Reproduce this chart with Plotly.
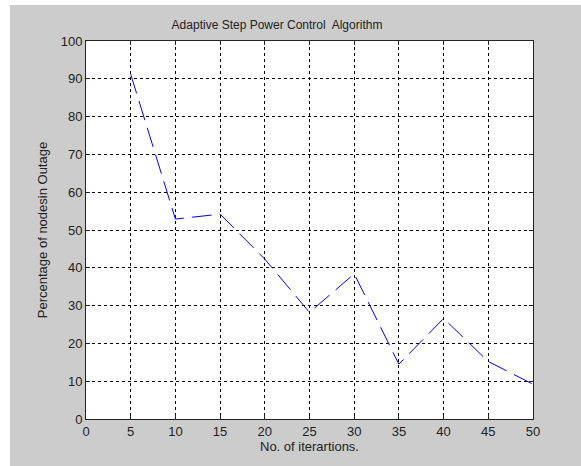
import plotly.graph_objects as go

iterations = [5, 10, 15, 20, 25, 30, 35, 40, 45, 50]
outage_pct = [91.2, 52.9, 54.2, 42.3, 28.2, 38.4, 14.5, 26.6, 15.2, 9.2]
x_ticks = [0, 5, 10, 15, 20, 25, 30, 35, 40, 45, 50]
y_ticks = [0, 10, 20, 30, 40, 50, 60, 70, 80, 90, 100]

W, H = 581, 466
L, R, T, B = 86, 48, 41, 47
pw, ph = W - L - R, H - T - B

FONT = "Liberation Sans, Arial, sans-serif"

fig = go.Figure()
fig.add_trace(go.Scatter(
    x=iterations, y=outage_pct, mode="lines",
    line=dict(color="#0000ff", width=1, dash="20px,8px"),
    showlegend=False, hoverinfo="skip",
))

axis_common = dict(
    showline=True, linecolor="#222222", linewidth=1, mirror="allticks",
    ticks="inside", ticklen=4, tickcolor="#222222",
    showgrid=True, gridcolor="#000000", gridwidth=1, griddash="3px,3px",
    zeroline=False, automargin=False,
    tickfont=dict(family=FONT, size=13, color="#222222"),
)

fig.update_xaxes(range=[0, 50], tickvals=x_ticks, **axis_common,
                 title=dict(text="No. of iterartions.", font=dict(family=FONT, size=13, color="#222222"), standoff=4))
fig.update_yaxes(range=[0, 100], tickvals=y_ticks, **axis_common,
                 title=dict(text="Percentage of nodesin Outage", font=dict(family=FONT, size=13, color="#222222"), standoff=10))

# thin white strips at the left and top edges of the gray figure
fig.add_shape(type="rect", xref="paper", yref="paper",
              x0=(-5 - L) / pw, x1=(10 - L) / pw,
              y0=(ph + T - H - 5) / ph, y1=(ph + T + 5) / ph,
              fillcolor="#ffffff", line=dict(width=0), layer="above")
fig.add_shape(type="rect", xref="paper", yref="paper",
              x0=(-5 - L) / pw, x1=(W + 5 - L) / pw,
              y0=(ph + T - 5) / ph, y1=(ph + T + 5) / ph,
              fillcolor="#ffffff", line=dict(width=0), layer="above")

fig.update_layout(
    width=W, height=H,
    margin=dict(l=L, r=R, t=T, b=B, autoexpand=False),
    paper_bgcolor="#cccccc", plot_bgcolor="#ffffff",
    title=dict(text="Adaptive Step Power Control  Algorithm",
               font=dict(family=FONT, size=12, color="#222222"),
               xref="container", x=277 / W, xanchor="center",
               yref="container", y=1 - 25 / H, yanchor="middle"),
)

fig.write_html("out.html", config={"displayModeBar": False},
               post_script="document.body.style.margin='0';document.body.style.overflow='hidden';")
